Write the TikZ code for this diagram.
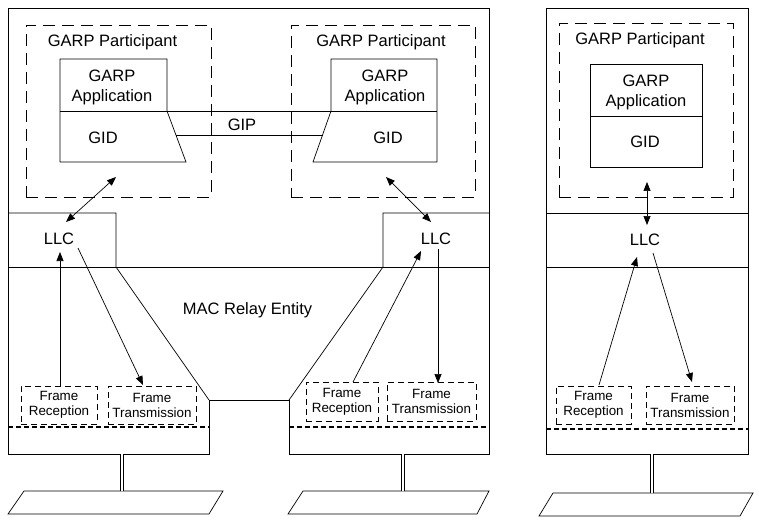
\documentclass[tikz,border=0pt]{standalone}
\usepackage{fontspec}
\setmainfont{Liberation Sans}
\usetikzlibrary{arrows.meta}

\begin{document}
\begin{tikzpicture}[x=1pt, y=-1pt, line width=0.7pt,
    every node/.append style={font=\fontsize{16.5}{20}\selectfont, align=center, inner sep=0pt},
    small/.style={font=\fontsize{13.4}{15}\selectfont},
    partbox/.style={draw, dash pattern=on 12pt off 7pt},
    framebox/.style={draw, small, dash pattern=on 6pt off 4pt, minimum height=38},
    portline/.style={line width=1.5pt, dash pattern=on 5pt off 3pt},
    tip/.style={-{Triangle[length=9pt,width=7pt]}},
    twotip/.style={{Triangle[length=9pt,width=7pt]}-{Triangle[length=9pt,width=7pt]}},
    link/.style={double, double distance=2.2pt, line width=0.7pt}]
    \useasboundingbox (0,0) rectangle (759,521);
    % two-port bridge
    \coordinate (B1) at (8,8);
    \coordinate (B2) at (489,8);
    \coordinate (B3) at (489,454);
    \coordinate (B4) at (289,454);
    \coordinate (B5) at (289,400);
    \coordinate (B6) at (209,400);
    \coordinate (B7) at (209,454);
    \coordinate (B8) at (8,454);
    \draw (B1) -- (B2) -- (B3) -- (B4) -- (B5) -- (B6) -- (B7) -- (B8) -- cycle;
    \draw (8,267) -- (489,267);
    \coordinate (llcL) at (116,267);
    \coordinate (llcR) at (383,267);
    \draw (8,213) -- (116,213) -- (llcL) -- (B6);
    \draw (489,213) -- (383,213) -- (llcR) -- (B5);
    \draw[portline] (8,427) -- (209,427) (289,427) -- (489,427);
    % GARP participants
    \node[partbox, minimum width=185, minimum height=172] (partL) at (118.5,111) {};
    \node[partbox, minimum width=184, minimum height=172] (partR) at (383,111) {};
    \node (partLtxt) at (112.5,42) {GARP Participant};
    \node (partRtxt) at (381,42) {GARP Participant};
    \coordinate (appL) at (167,111);
    \coordinate (gidL) at (186,162);
    \coordinate (appR) at (331,111);
    \coordinate (gidR) at (313,162);
    \draw (appL) -- (167,59) -- (60,59) -- (60,162) -- (gidL) -- (appL);
    \draw (appR) -- (331,59) -- (437,59) -- (437,162) -- (gidR) -- (appR);
    \draw (60,111) -- (437,111);
    \path (appL) -- (gidL) coordinate[pos=0.47] (gipL);
    \path (appR) -- (gidR) coordinate[pos=0.47] (gipR);
    \draw (gipL) -- (gipR);
    \node (gip) at (242,125) {GIP};
    \node (appLtxt) at (112,87) {GARP\\Application};
    \node (appRtxt) at (385,87) {GARP\\Application};
    \node (gidLtxt) at (103,138) {GID};
    \node (gidRtxt) at (388,138) {GID};
    \node (llcLtxt) at (59,239) {LLC};
    \node (llcRtxt) at (436,239) {LLC};
    \node (mac) at (247.5,310) {MAC Relay Entity};
    % frame boxes
    \node[framebox, minimum width=76] (rxL) at (59,405) {Frame\\Reception};
    \node[framebox, minimum width=88] (txL) at (152,405) {Frame\\Transmission};
    \node[framebox, minimum width=72, minimum height=39] (rxR) at (342,401.5) {Frame\\Reception};
    \node[framebox, minimum width=89, minimum height=39] (txR) at (431.5,401.5) {Frame\\Transmission};
    % arrows
    \draw[twotip] (66,222) -- (116,177);
    \draw[twotip] (386,177) -- (431,222);
    \draw[tip] (60,386) -- (60,252);
    \draw[tip] (78,248) -- (143,385);
    \draw[tip] (353,382) -- (421,251);
    \draw[tip] (438,249) -- (438,383);
    % one-port station
    \draw (546,8) rectangle (748,454);
    \draw (546,213) -- (748,213) (546,267) -- (748,267);
    \draw[portline] (546,429) -- (748,429);
    \node[partbox, minimum width=174, minimum height=174] (partS) at (646,110) {};
    \node (partStxt) at (640,40) {GARP Participant};
    \draw (590,64) rectangle (702,167);
    \draw (590,116) -- (702,116);
    \node (appStxt) at (646,92) {GARP\\Application};
    \node (gidStxt) at (645,142) {GID};
    \node (llcStxt) at (645,240) {LLC};
    \node[framebox, minimum width=75] (rxS) at (593.5,405) {Frame\\Reception};
    \node[framebox, minimum width=88] (txS) at (690,405) {Frame\\Transmission};
    \draw[twotip] (647,182) -- (647,225);
    \draw[tip] (599,385) -- (637,257);
    \draw[tip] (653,253) -- (692,382);
    % LAN segments
    \draw (8,514) -- (209,514) -- (223,491) -- (24,491) -- cycle;
    \draw (288,514) -- (477,514) -- (489,491) -- (303,491) -- cycle;
    \draw (539,516) -- (740,516) -- (753,493) -- (553,493) -- cycle;
    \draw[link] (122,454) -- (122,491);
    \draw[link] (403,454) -- (403,491);
    \draw[link] (652,454) -- (652,493);
\end{tikzpicture}
\end{document}
